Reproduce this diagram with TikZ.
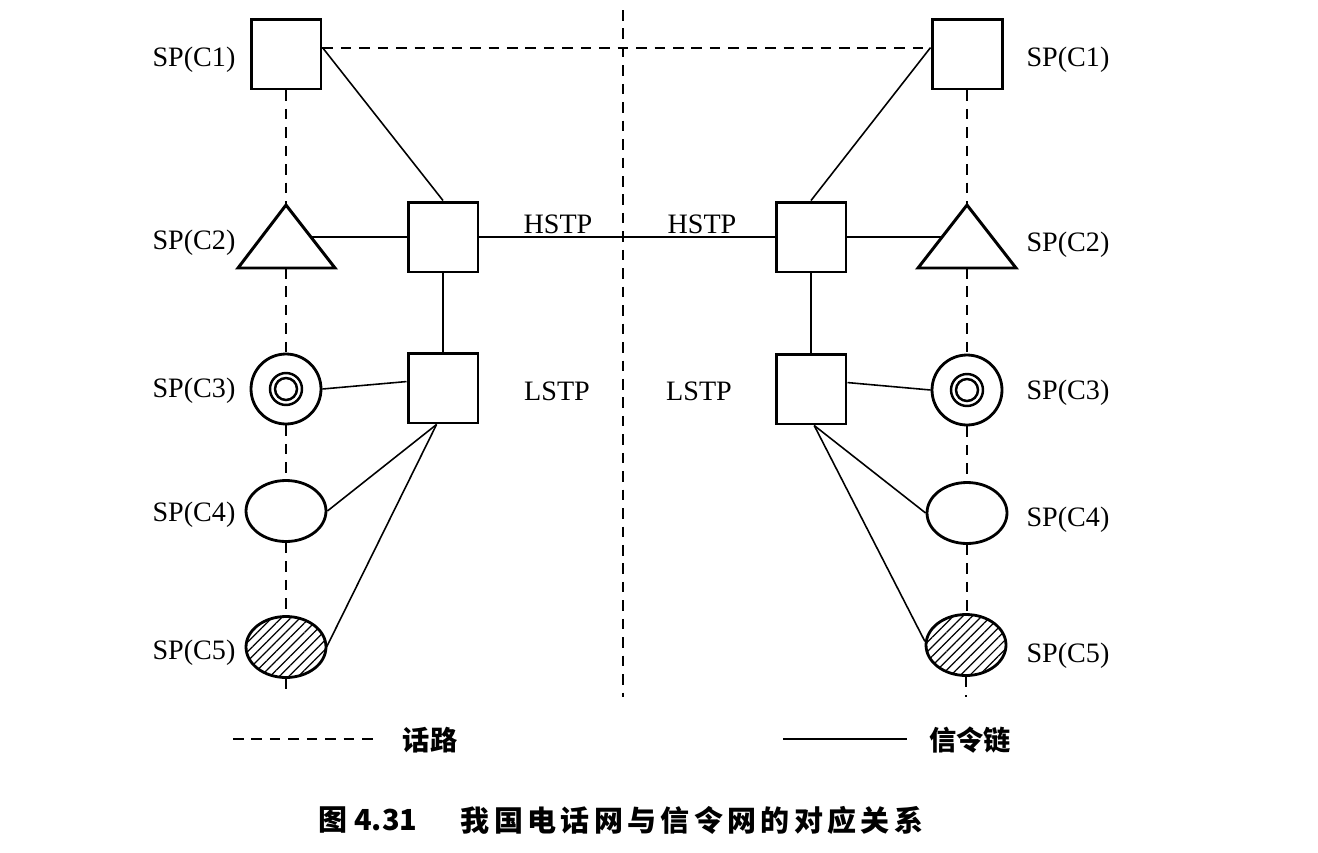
\documentclass[tikz,border=0pt]{standalone}
\usepackage{fontspec}
\setmainfont{Liberation Serif}
\newfontfamily\cjk{Noto Sans CJK SC}
\usetikzlibrary{shapes.geometric,patterns.meta}

\tikzset{
    Cuadro/.style={draw, line width=1.7pt, minimum size=1.4cm, inner sep=0pt},
    Anillo/.style={draw, circle, line width=1.6pt, minimum size=1.4cm, inner sep=0pt},
    Elipse/.style={draw, ellipse, line width=1.6pt, minimum width=1.6cm, minimum height=1.22cm, inner sep=0pt},
    Rayado/.style={pattern={Lines[angle=45, distance=3.8pt, line width=0.7pt]}},
    Senal/.style={line width=0.9pt},
    Voz/.style={line width=1.2pt, dash pattern=on 6pt off 4.5pt},
    Etiqueta/.style={font=\fontsize{16}{18}\selectfont},
    Leyenda/.style={font=\cjk\bfseries\fontsize{15.5}{18}\selectfont},
}

\begin{document}
\begin{tikzpicture}[x=0.02cm, y=-0.02cm]
    \useasboundingbox (0, 0) rectangle (1318, 852);

    % Columna izquierda: red telefonica.
    \node[Cuadro] (C1L) at (286, 54) {};
    \coordinate (T2L) at (286, 205);
    \coordinate (B2L) at (286, 268);
    \coordinate (E2L) at (311, 237);
    \draw[line width=1.7pt, line join=miter] (T2L) -- (335, 268) -- (238, 268) -- cycle;
    \node[Anillo] (C3L) at (286, 389) {};
    \draw[line width=1.4pt] (C3L.center) circle (0.32cm) (C3L.center) circle (0.22cm);
    \node[Elipse] (C4L) at (286, 511) {};
    \node[Elipse, Rayado] (C5L) at (286, 647) {};
    \coordinate (F5L) at (286, 694);

    % Columna derecha.
    \node[Cuadro] (C1R) at (967, 54) {};
    \coordinate (T2R) at (967, 205);
    \coordinate (B2R) at (967, 268);
    \coordinate (E2R) at (943, 237);
    \draw[line width=1.7pt, line join=miter] (T2R) -- (1016, 268) -- (918, 268) -- cycle;
    \node[Anillo] (C3R) at (967, 390) {};
    \draw[line width=1.4pt] (C3R.center) circle (0.32cm) (C3R.center) circle (0.22cm);
    \node[Elipse] (C4R) at (967, 513) {};
    \node[Elipse, Rayado] (C5R) at (966, 645) {};
    \coordinate (F5R) at (966, 697);

    % Puntos de transferencia de senalizacion.
    \node[Cuadro] (HL) at (443, 237) {};
    \node[Cuadro] (LL) at (443, 388) {};
    \node[Cuadro] (HR) at (811, 237) {};
    \node[Cuadro] (LR) at (811, 389) {};

    % Linea divisoria.
    \coordinate (MedioA) at (623, 10);
    \coordinate (MedioB) at (623, 697);
    \draw[Voz, line width=1pt] (MedioA) -- (MedioB);

    % Rutas de voz.
    \draw[Voz] (C1L.10) -- (C1R.170);
    \draw[Voz] (C1L.south) -- (T2L);
    \draw[Voz] (B2L) -- (C3L.north);
    \draw[Voz] (C3L.south) -- (C4L.north);
    \draw[Voz] (C4L.south) -- (C5L.north);
    \draw[Voz] (C5L.south) -- (F5L);
    \draw[Voz] (C1R.south) -- (T2R);
    \draw[Voz] (B2R) -- (C3R.north);
    \draw[Voz] (C3R.south) -- (C4R.north);
    \draw[Voz] (C4R.south) -- (C4R.south |- C5R.north);
    \draw[Voz] (C5R.south) -- (F5R);

    % Enlaces de senalizacion.
    \draw[Senal] (C1L.10) -- (HL.north);
    \draw[Senal] (E2L) -- (HL.west);
    \draw[Senal] (HL.east) -- (HR.west);
    \draw[Senal] (HL.south) -- (LL.north);
    \draw[Senal] (C3L.east) -- (LL.170);
    \draw[Senal] (LL.-100) -- (C4L.east);
    \draw[Senal] (LL.-100) -- (C5L.east);
    \draw[Senal] (C1R.170) -- (HR.north);
    \draw[Senal] (HR.east) -- (E2R);
    \draw[Senal] (HR.south) -- (LR.north);
    \draw[Senal] (LR.10) -- (C3R.west);
    \draw[Senal] (LR.-85) -- (C4R.west);
    \draw[Senal] (LR.-85) -- (C5R.175);

    \node[Etiqueta] (L1L) at (194, 60) {SP(C1)};
    \node[Etiqueta] (L2L) at (194, 243) {SP(C2)};
    \node[Etiqueta] (L3L) at (194, 391) {SP(C3)};
    \node[Etiqueta] (L4L) at (194, 515) {SP(C4)};
    \node[Etiqueta] (L5L) at (194, 653) {SP(C5)};
    \node[Etiqueta] (L1R) at (1068, 60) {SP(C1)};
    \node[Etiqueta] (L2R) at (1068, 245) {SP(C2)};
    \node[Etiqueta] (L3R) at (1068, 393) {SP(C3)};
    \node[Etiqueta] (L4R) at (1068, 520) {SP(C4)};
    \node[Etiqueta] (L5R) at (1068, 656) {SP(C5)};
    \node[Etiqueta] (HtxtL) at (558, 224) {HSTP};
    \node[Etiqueta] (HtxtR) at (702, 224) {HSTP};
    \node[Etiqueta] (LtxtL) at (557, 391) {LSTP};
    \node[Etiqueta] (LtxtR) at (699, 391) {LSTP};

    % Leyenda.
    \coordinate (VozA) at (233, 739);
    \coordinate (VozB) at (376, 739);
    \draw[Voz] (VozA) -- (VozB);
    \node[Leyenda] (TxtVoz) at (430, 740) {话路};
    \coordinate (SenalA) at (783, 739);
    \coordinate (SenalB) at (907, 739);
    \draw[Senal] (SenalA) -- (SenalB);
    \node[Leyenda] (TxtSenal) at (970, 740) {信令链};

    \node[font=\cjk\bfseries\fontsize{16.5}{18}\selectfont] (NumFig) at (368, 820) {图 4.31};
    \node[font=\cjk\bfseries\fontsize{16.5}{18}\selectfont\addfontfeature{LetterSpace=15}] (TitFig) at (692, 820) {我国电话网与信令网的对应关系};
\end{tikzpicture}
\end{document}
